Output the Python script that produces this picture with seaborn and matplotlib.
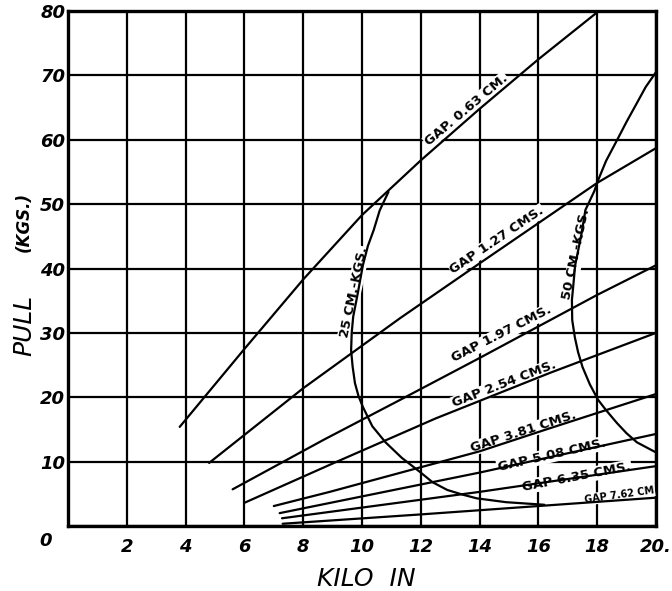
import matplotlib
matplotlib.use("Agg")
import matplotlib.pyplot as plt
import seaborn as sns
import pandas as pd

# Pull (kg) against kilo ampere-turns for a set of air gaps
gap_063_x = [3.8, 6.0, 8.0, 10.0, 12.0, 14.0, 16.0, 18.0]
gap_063_y = [15.4, 27.5, 38.3, 48.3, 56.8, 64.8, 72.5, 79.8]

gap_127_x = [4.8, 8.0, 11.3, 14.0, 18.0, 20.0]
gap_127_y = [9.8, 21.4, 32.3, 40.8, 53.3, 58.7]

gap_197_x = [5.6, 8.7, 11.3, 14.0, 18.0, 20.0]
gap_197_y = [5.7, 13.4, 19.6, 26.1, 35.9, 40.5]

gap_254_x = [6.0, 8.9, 12.5, 16.4, 20.0]
gap_254_y = [3.6, 9.5, 16.7, 23.8, 30.0]

gap_381_x = [7.0, 8.9, 14.0, 16.4, 20.0]
gap_381_y = [3.1, 5.3, 11.6, 15.2, 20.5]

gap_508_x = [7.2, 14.0, 20.0]
gap_508_y = [2.0, 8.3, 14.3]

gap_635_x = [7.28, 14.0, 20.0]
gap_635_y = [1.2, 5.3, 9.3]

gap_762_x = [7.3, 12.0, 16.0, 20.0]
gap_762_y = [0.35, 1.8, 3.1, 4.4]

# Constant-work curves
work_25_x = [10.9, 10.6, 10.4, 10.2, 10.03, 9.85, 9.7, 9.65, 9.63, 9.68, 9.76,
             9.88, 10.03, 10.35, 10.8, 11.35, 11.97, 12.4, 12.9, 13.4, 13.9,
             14.9, 16.2]
work_25_y = [51.9, 49.0, 46.0, 43.5, 40.5, 36.0, 32.5, 30.0, 27.3, 24.8, 22.2,
             20.2, 18.5, 15.5, 13.0, 10.6, 8.4, 6.8, 5.6, 4.9, 4.3,
             3.7, 3.3]

work_50_x = [20.0, 19.65, 19.35, 19.0, 18.67, 18.3, 18.03, 17.9, 17.6, 17.45,
             17.25, 17.2, 17.14, 17.15, 17.24, 17.35, 17.5, 17.75, 18.03, 18.3,
             18.67, 19.0, 19.35, 19.97]
work_50_y = [70.5, 68.2, 65.7, 62.8, 59.9, 56.7, 53.7, 52.0, 49.1, 45.0,
             40.5, 38.0, 35.1, 32.0, 29.3, 27.0, 24.7, 22.0, 19.6, 18.0,
             16.0, 14.4, 13.0, 11.5]

x_ticks = [0, 2, 4, 6, 8, 10, 12, 14, 16, 18, 20]
x_tick_labels = ["", "2", "4", "6", "8", "10", "12", "14", "16", "18", "20."]
y_ticks = [0, 10, 20, 30, 40, 50, 60, 70, 80]
y_tick_labels = ["", "10", "20", "30", "40", "50", "60", "70", "80"]

# label text, x, y, rotation, size
curve_labels = [
    ("GAP. 0.63 CM.", 13.55, 64.6, 40, 9.5),
    ("GAP 1.27 CMS.", 14.6, 44.4, 34, 9.5),
    ("GAP 1.97 CMS.", 14.75, 29.8, 27, 9.5),
    ("GAP 2.54 CMS.", 14.85, 22.0, 21, 9.5),
    ("GAP 3.81 CMS.", 15.5, 14.6, 18, 9.5),
    ("GAP 5.08 CMS.", 16.45, 11.0, 13, 9.5),
    ("GAP 6.35 CMS.", 17.3, 7.6, 11, 9.5),
    ("GAP 7.62 CM", 18.75, 4.8, 8, 7),
    ("25 CM.-KGS.", 9.72, 36.3, 78, 9.5),
    ("50 CM.-KGS.", 17.3, 42.2, 78, 9.5),
]

series = [
    (gap_063_x, gap_063_y), (gap_127_x, gap_127_y), (gap_197_x, gap_197_y),
    (gap_254_x, gap_254_y), (gap_381_x, gap_381_y), (gap_508_x, gap_508_y),
    (gap_635_x, gap_635_y), (gap_762_x, gap_762_y),
    (work_25_x, work_25_y), (work_50_x, work_50_y),
]

sns.set_style("white")
plt.rcParams["font.family"] = ["DejaVu Sans"]
plt.rcParams["text.color"] = "black"
plt.rcParams["xtick.color"] = "black"
plt.rcParams["ytick.color"] = "black"
plt.rcParams["axes.labelcolor"] = "black"

fig = plt.figure(figsize=(6.72, 5.91), dpi=100)
ax = fig.add_axes([68 / 672, 65 / 591, 588 / 672, 515 / 591])

for sx, sy in series:
    df = pd.DataFrame({"x": sx, "y": sy})
    sns.lineplot(data=df, x="x", y="y", sort=False, estimator=None,
                 color="black", linewidth=1.6, ax=ax, zorder=4)

ax.set_xlim(0, 20)
ax.set_ylim(0, 80)
ax.set_xticks(x_ticks)
ax.set_yticks(y_ticks)
ax.set_xticklabels(x_tick_labels, fontsize=13, fontweight="bold", fontstyle="italic")
ax.set_yticklabels(y_tick_labels, fontsize=13, fontweight="bold", fontstyle="italic")
ax.tick_params(axis="both", length=0, colors="black")
ax.tick_params(axis="x", pad=9)
ax.tick_params(axis="y", pad=2)
ax.grid(True, color="black", linewidth=1.6, zorder=1)
ax.set_axisbelow(True)
for sp in ax.spines.values():
    sp.set_color("black")
    sp.set_linewidth(2.4)

ax.set_xlabel("")
ax.set_ylabel("")

# origin label shared by both axes
ax.text(-0.55, -1.0, "0", ha="right", va="top", fontsize=13,
        fontweight="bold", fontstyle="italic", clip_on=False, color="black")

for txt, tx, ty, rot, fs in curve_labels:
    ax.text(tx, ty, txt, rotation=rot, rotation_mode="anchor",
            ha="center", va="center", fontsize=fs, fontweight="bold",
            color="black", zorder=3,
            bbox=dict(facecolor="white", edgecolor="none", pad=0.6))

fig.text(366 / 672, 1 - 579 / 591, "KILO  IN", ha="center", va="center",
         fontsize=18, fontstyle="italic", color="black")
fig.text(24 / 672, 1 - 325 / 591, "PULL", ha="center", va="center",
         fontsize=18, fontstyle="italic", rotation=90, color="black")
fig.text(24 / 672, 1 - 222 / 591, "(KGS.)", ha="center", va="center",
         fontsize=12, fontstyle="italic", fontweight="bold", rotation=90,
         color="black")

fig.savefig("out.png", dpi=100)
